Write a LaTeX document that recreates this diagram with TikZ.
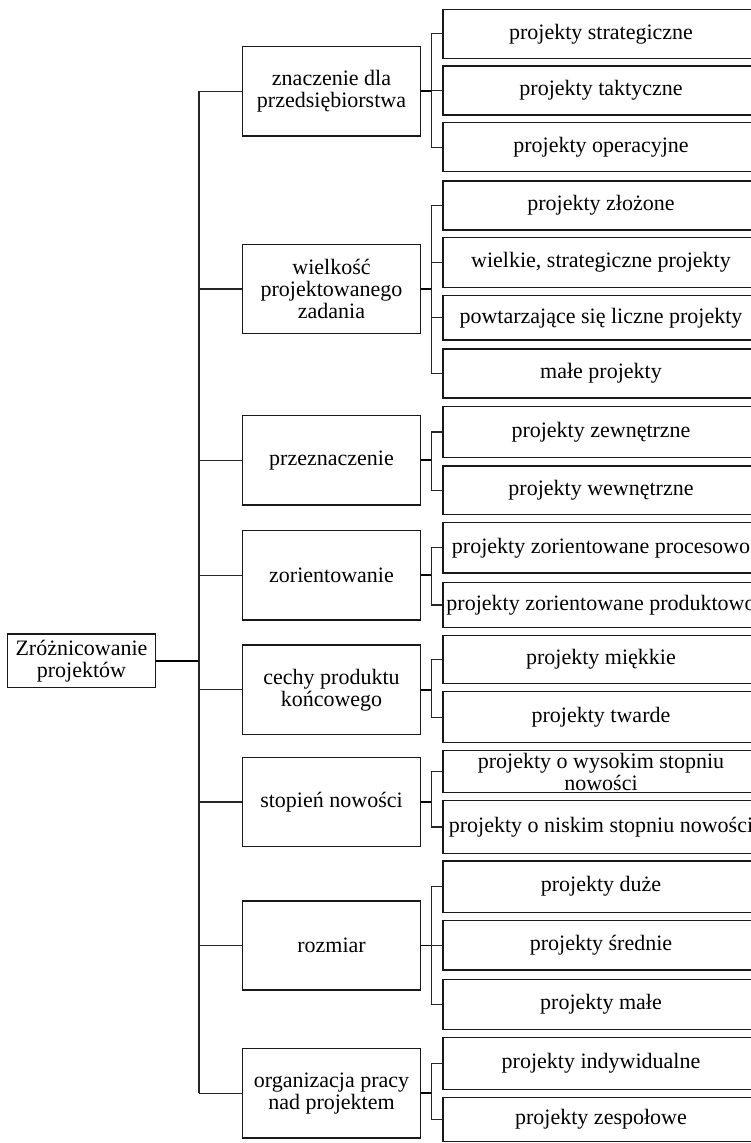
\documentclass[tikz,border=0pt]{standalone}
\usepackage{fontspec}
\setmainfont{Liberation Serif}
\begin{document}
\begin{tikzpicture}[x=1pt,y=-1pt,
  box/.style={draw=black!90, line width=1.4pt, inner sep=0pt, align=center,
    font=\fontsize{22}{22}\selectfont},
  rootbox/.style={box, minimum width=148.4pt, minimum height=53.3pt},
  midbox/.style={box, minimum width=178.4pt, minimum height=89.3pt},
  leaf/.style={box, minimum width=316pt, minimum height=#1},
  leaf/.default=49pt,
  link/.style={draw=black!85, line width=1.2pt},
  joinline/.style={draw=black, line width=1.8pt}]
\useasboundingbox (0,0) rectangle (751,1143);
\clip (0,0) rectangle (751,1143);

% vertical rails
\coordinate (trunk) at (199,0);
\coordinate (br) at (431.3,0);

% root
\node[rootbox] (root) at (81.5,660.7) {Zróżnicowanie\\projektów};

% criteria
\node[midbox] (m1) at (331.5,91.35) {znaczenie dla\\przedsiębiorstwa};
\node[midbox] (m2) at (331.5,289) {wielkość\\projektowanego\\zadania};
\node[midbox] (m3) at (331.5,460.3) {przeznaczenie};
\node[midbox] (m4) at (331.5,575.3) {zorientowanie};
\node[midbox] (m5) at (331.5,689.8) {cechy produktu\\końcowego};
\node[midbox] (m6) at (331.5,802) {stopień nowości};
\node[midbox] (m7) at (331.5,945.5) {rozmiar};
\node[midbox] (m8) at (331.5,1093.3) {organizacja pracy\\nad projektem};

% project types
\node[leaf] (r1) at (601,33.8) {projekty strategiczne};
\node[leaf] (r2) at (601,90.5) {projekty taktyczne};
\node[leaf] (r3) at (601,147.2) {projekty operacyjne};
\node[leaf] (r4) at (601,205.5) {projekty złożone};
\node[leaf=49.6pt] (r5) at (601,262.5) {wielkie, strategiczne projekty};
\node[leaf=44.3pt] (r6) at (601,317.8) {powtarzające się liczne projekty};
\node[leaf=48.7pt] (r7) at (601,373.5) {małe projekty};
\node[leaf=50.6pt] (r8) at (601,432) {projekty zewnętrzne};
\node[leaf=48.3pt] (r9) at (601,490.2) {projekty wewnętrzne};
\node[leaf=50.3pt] (r10) at (601,547.8) {projekty zorientowane procesowo};
\node[leaf=45.4pt] (r11) at (601,605) {projekty zorientowane produktowo};
\node[leaf=47.6pt] (r12) at (601,659.5) {projekty miękkie};
\node[leaf=51pt] (r13) at (601,717.2) {projekty twarde};
\node[leaf=41.6pt] (r14) at (601,771.5) {projekty o wysokim stopniu\\nowości};
\node[leaf=52.6pt] (r15) at (601,827) {projekty o niskim stopniu nowości};
\node[leaf=51.3pt] (r16) at (601,886.7) {projekty duże};
\node[leaf=49.3pt] (r17) at (601,945.3) {projekty średnie};
\node[leaf=50pt] (r18) at (601,1004.3) {projekty małe};
\node[leaf=51.6pt] (r19) at (601,1063.5) {projekty indywidualne};
\node[leaf=44pt] (r20) at (601,1119.5) {projekty zespołowe};

% root to criteria
\draw[joinline] (root.east) -- (root.east -| trunk);
\draw[link] (m1.west -| trunk) -- (m8.west -| trunk);
\foreach \m in {m1,m2,m3,m4,m5,m6,m7,m8}
  \draw[link] (\m.west) -- (\m.west -| trunk);

% criteria to project types
\foreach \m/\a/\b in {m1/r1/r3, m2/r4/r7, m3/r8/r9, m4/r10/r11,
                      m5/r12/r13, m6/r14/r15, m7/r16/r18, m8/r19/r20} {
  \draw[joinline] (\m.east) -- (\m.east -| br);
  \draw[link] (\a.west) -- (\a.west -| br) -- (\b.west -| br) -- (\b.west);
}
\foreach \r in {r2,r5,r6,r17}
  \draw[link] (\r.west) -- (\r.west -| br);
\end{tikzpicture}
\end{document}
